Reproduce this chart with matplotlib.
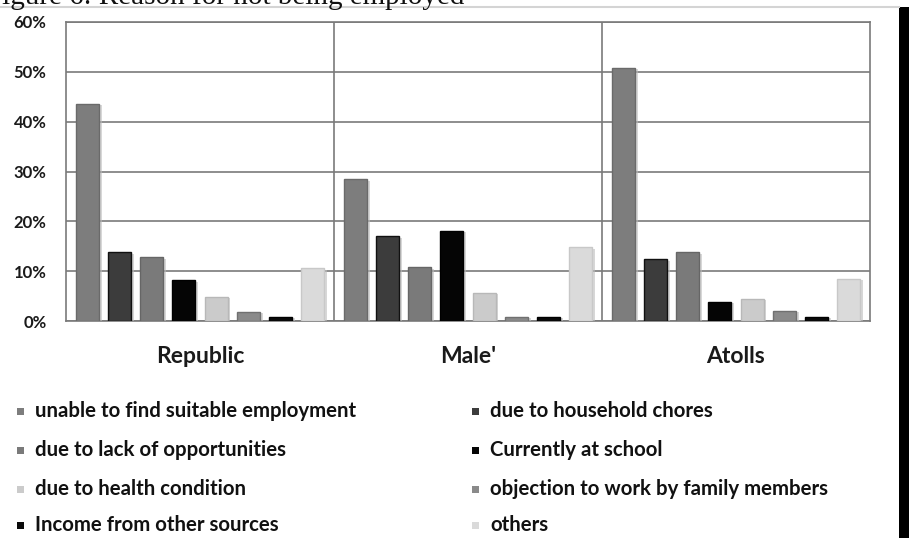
import matplotlib
matplotlib.use("Agg")
import matplotlib.pyplot as plt
import matplotlib.patheffects as pe
from matplotlib.patches import Rectangle
from matplotlib.lines import Line2D
import numpy as np

regions = ["Republic", "Male'", "Atolls"]
reasons = ["unable to find suitable employment", "due to household chores",
           "due to lack of opportunities", "Currently at school",
           "due to health condition", "objection to work by family members",
           "Income from other sources", "others"]
# percent, one list per reason, in region order
unable = [43.6, 28.4, 50.8]
chores = [13.8, 17.0, 12.4]
lack_opp = [12.8, 10.8, 13.8]
school = [8.2, 18.1, 3.8]
health = [4.9, 5.6, 4.5]
objection = [1.9, 0.9, 2.1]
income = [0.9, 0.9, 0.9]
others = [10.6, 14.8, 8.5]
values = [unable, chores, lack_opp, school, health, objection, income, others]

colors = ["#7d7d7d", "#3c3c3c", "#7a7a7a", "#050505",
          "#cbcbcb", "#8a8a8a", "#0a0a0a", "#dadada"]
edges = ["#6a6a6a", "#111111", "#666666", "#000000",
         "#b8b8b8", "#707070", "#000000", "#c8c8c8"]

plt.rcParams['font.family'] = ['Lato', 'DejaVu Sans']

fig = plt.figure(figsize=(9.09, 5.38), dpi=100)
ax = fig.add_axes([66/909, 1-321/538, (870-66)/909, (321-22)/538])

x = np.arange(len(regions))
pitch = 0.12
width = 0.086
for i, vals in enumerate(values):
    ax.bar(x + (i - 3.5) * pitch, vals, width, color=colors[i],
           edgecolor=edges[i], linewidth=1.0, zorder=3,
           path_effects=[pe.SimplePatchShadow(offset=(2, -1), shadow_rgbFace="#bdbdbd", alpha=0.6),
                         pe.Normal()])

ax.set_xlim(-0.5, 2.5)
ax.set_ylim(0, 60)
ax.set_yticks(np.arange(0, 61, 10))
ax.set_yticklabels([f"{v}%" for v in range(0, 61, 10)], fontsize=12, fontweight='bold')
ax.set_xticks(x)
ax.set_xticklabels(regions, fontsize=16.5, fontweight='bold')
ax.tick_params(axis='y', length=0, pad=14, colors='#1a1a1a')
ax.tick_params(axis='x', length=0, pad=18, colors='#1a1a1a')
ax.yaxis.grid(True, color='#7a7a7a', linewidth=1.2, zorder=1)
for b in [0.5, 1.5]:
    ax.axvline(b, color='#7a7a7a', linewidth=1.2, zorder=1)
for s in ax.spines.values():
    s.set_color('#7a7a7a')
    s.set_linewidth(1.2)

# legend drawn by hand, two columns, row-major like the original
col_x = [17/909, 472/909]
row_y = [411, 450, 489, 525]
for i, name in enumerate(reasons):
    cx = col_x[i % 2]
    cy = 1 - row_y[i // 2] / 538
    fig.patches.append(Rectangle((cx, cy - 3.5/538), 7/909, 7/538, transform=fig.transFigure,
                                 facecolor=colors[i], edgecolor='none'))
    fig.text(cx + 18/909, cy, name, fontsize=14.7, fontweight='bold', va='center', ha='left',
             color='#111111')

# clipped caption from the page above the chart
fig.text(-14/909, 1 - 4/538, "Figure 6: Reason for not being employed", fontsize=21,
         family='Liberation Serif', va='baseline', ha='left', color='#111111')
fig.add_artist(Line2D([0, 899/909], [1 - 7/538, 1 - 7/538], transform=fig.transFigure,
                      color='#d4d4d4', linewidth=1.5))
fig.patches.append(Rectangle((899/909, 0), 10/909, 1 - 7/538, transform=fig.transFigure,
                             facecolor='black', edgecolor='none'))

fig.savefig("out.png", dpi=100)
